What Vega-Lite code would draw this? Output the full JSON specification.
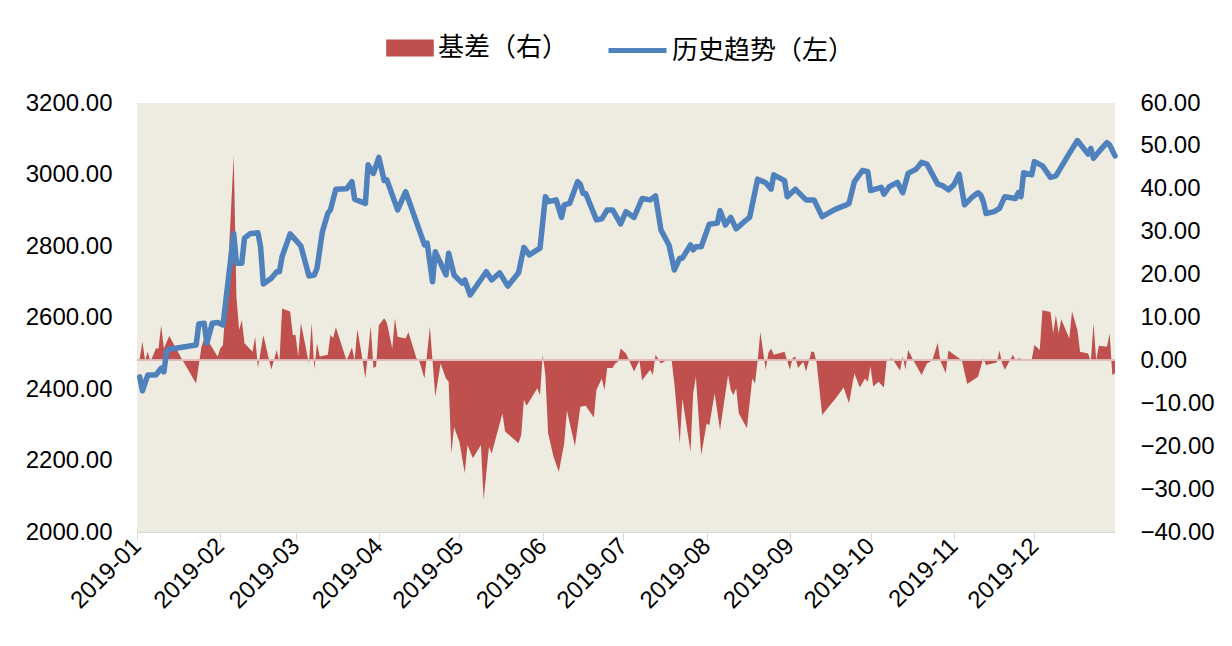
{
 "$schema": "https://vega.github.io/schema/vega-lite/v6.json",
 "width": 978,
 "height": 429,
 "autosize": {"type": "none"},
 "padding": {"left": 137, "top": 103, "right": 117, "bottom": 114},
 "background": "#ffffff",
 "config": {
  "view": {"fill": "#EEECE1", "stroke": null},
  "axis": {"labelFont": "Liberation Sans", "labelColor": "#000000", "labelFontSize": 24, "grid": false, "title": null},
  "legend": {"labelFont": "Noto Sans CJK SC", "labelFontSize": 26, "labelColor": "#000000", "padding": 0, "labelLimit": 500}
 },
 "datasets": {
  "basis": [
   {"date":"2019/01/02","basis":0.3},{"date":"2019/01/03","basis":4.4},{"date":"2019/01/04","basis":0},{"date":"2019/01/05","basis":2.0},{"date":"2019/01/06","basis":-0.3},{"date":"2019/01/08","basis":2.8},{"date":"2019/01/09","basis":2.8},{"date":"2019/01/10","basis":8.2},{"date":"2019/01/11","basis":2.8},{"date":"2019/01/13","basis":5.7},{"date":"2019/01/18","basis":0},{"date":"2019/01/23","basis":-5.4},{"date":"2019/01/25","basis":3.2},{"date":"2019/01/27","basis":7.1},{"date":"2019/01/28","basis":4.0},{"date":"2019/01/31","basis":0.9},
   {"date":"2019/02/01","basis":2.8},{"date":"2019/02/02","basis":3.6},{"date":"2019/02/04","basis":22.6},{"date":"2019/02/06","basis":47.9},{"date":"2019/02/07","basis":14.9},{"date":"2019/02/08","basis":7.1},{"date":"2019/02/09","basis":9.4},{"date":"2019/02/10","basis":4.0},{"date":"2019/02/13","basis":2.0},{"date":"2019/02/14","basis":5.5},{"date":"2019/02/15","basis":-1.8},{"date":"2019/02/17","basis":5.9},{"date":"2019/02/20","basis":-2.1},{"date":"2019/02/22","basis":2.4},{"date":"2019/02/23","basis":-0.3},{"date":"2019/02/24","basis":12.1},{"date":"2019/02/27","basis":11.4},{"date":"2019/02/28","basis":5.9},
   {"date":"2019/03/01","basis":5.9},{"date":"2019/03/02","basis":0.9},{"date":"2019/03/03","basis":8.7},{"date":"2019/03/06","basis":-0.7},{"date":"2019/03/07","basis":8.8},{"date":"2019/03/08","basis":-2.2},{"date":"2019/03/09","basis":4.0},{"date":"2019/03/10","basis":0.9},{"date":"2019/03/13","basis":1.3},{"date":"2019/03/14","basis":5.9},{"date":"2019/03/15","basis":5.2},{"date":"2019/03/16","basis":7.7},{"date":"2019/03/20","basis":0},{"date":"2019/03/22","basis":3.0},{"date":"2019/03/23","basis":0},{"date":"2019/03/24","basis":7.3},{"date":"2019/03/26","basis":0},{"date":"2019/03/27","basis":-4.2},{"date":"2019/03/29","basis":8.0},{"date":"2019/03/30","basis":-1.8},{"date":"2019/03/31","basis":-1.4},
   {"date":"2019/04/01","basis":8.2},{"date":"2019/04/03","basis":9.8},{"date":"2019/04/04","basis":8.8},{"date":"2019/04/06","basis":2.8},{"date":"2019/04/07","basis":9.8},{"date":"2019/04/08","basis":5.5},{"date":"2019/04/11","basis":5.1},{"date":"2019/04/12","basis":6.6},{"date":"2019/04/15","basis":0.5},{"date":"2019/04/16","basis":0},{"date":"2019/04/18","basis":-4.2},{"date":"2019/04/20","basis":7.8},{"date":"2019/04/21","basis":0},{"date":"2019/04/22","basis":-8.5},{"date":"2019/04/24","basis":-0.7},{"date":"2019/04/26","basis":-4.2},{"date":"2019/04/27","basis":-5.0},{"date":"2019/04/28","basis":-21.7},{"date":"2019/04/29","basis":-15.5},
   {"date":"2019/05/01","basis":-19.0},{"date":"2019/05/03","basis":-26.3},{"date":"2019/05/04","basis":-19.7},{"date":"2019/05/06","basis":-22.8},{"date":"2019/05/09","basis":-19.7},{"date":"2019/05/10","basis":-32.5},{"date":"2019/05/12","basis":-20.1},{"date":"2019/05/13","basis":-21.7},{"date":"2019/05/17","basis":-12.4},{"date":"2019/05/18","basis":-16.6},{"date":"2019/05/23","basis":-19.3},{"date":"2019/05/24","basis":-17.4},{"date":"2019/05/25","basis":-9.2},{"date":"2019/05/26","basis":-10.6},{"date":"2019/05/30","basis":-6.5},{"date":"2019/05/31","basis":-8.1},
   {"date":"2019/06/01","basis":1.3},{"date":"2019/06/02","basis":-3.4},{"date":"2019/06/03","basis":-16.9},{"date":"2019/06/05","basis":-22.4},{"date":"2019/06/07","basis":-26.0},{"date":"2019/06/09","basis":-19.3},{"date":"2019/06/10","basis":-11.7},{"date":"2019/06/13","basis":-20.0},{"date":"2019/06/15","basis":-10.8},{"date":"2019/06/17","basis":-10.6},{"date":"2019/06/20","basis":-13.3},{"date":"2019/06/21","basis":-6.9},{"date":"2019/06/23","basis":-4.2},{"date":"2019/06/24","basis":-6.9},{"date":"2019/06/25","basis":-1.8},{"date":"2019/06/27","basis":-1.8},{"date":"2019/06/28","basis":-0.7},{"date":"2019/06/29","basis":-0.3},{"date":"2019/06/30","basis":2.8},
   {"date":"2019/07/02","basis":1.6},{"date":"2019/07/05","basis":-2.6},{"date":"2019/07/07","basis":0},{"date":"2019/07/08","basis":-4.6},{"date":"2019/07/11","basis":-2.2},{"date":"2019/07/12","basis":-3.4},{"date":"2019/07/13","basis":1.3},{"date":"2019/07/15","basis":-0.7},{"date":"2019/07/17","basis":0},{"date":"2019/07/19","basis":0},{"date":"2019/07/20","basis":-5.4},{"date":"2019/07/22","basis":-19.3},{"date":"2019/07/23","basis":-8.9},{"date":"2019/07/26","basis":-21.3},{"date":"2019/07/27","basis":-7.7},{"date":"2019/07/28","basis":-3.8},{"date":"2019/07/30","basis":-22.1},
   {"date":"2019/08/01","basis":-14.7},{"date":"2019/08/02","basis":-15.1},{"date":"2019/08/04","basis":-7.7},{"date":"2019/08/06","basis":-16.2},{"date":"2019/08/09","basis":-3.4},{"date":"2019/08/10","basis":-6.9},{"date":"2019/08/11","basis":-8.1},{"date":"2019/08/12","basis":-6.5},{"date":"2019/08/13","basis":-12.4},{"date":"2019/08/16","basis":-15.8},{"date":"2019/08/18","basis":-4.2},{"date":"2019/08/19","basis":-5.4},{"date":"2019/08/20","basis":0},{"date":"2019/08/21","basis":6.6},{"date":"2019/08/23","basis":-2.2},{"date":"2019/08/24","basis":1.8},{"date":"2019/08/25","basis":2.8},{"date":"2019/08/26","basis":1.3},{"date":"2019/08/30","basis":2.0},
   {"date":"2019/09/01","basis":-2.2},{"date":"2019/09/02","basis":0.5},{"date":"2019/09/03","basis":0.9},{"date":"2019/09/04","basis":-1.8},{"date":"2019/09/06","basis":-0.3},{"date":"2019/09/07","basis":-2.6},{"date":"2019/09/09","basis":2.0},{"date":"2019/09/10","basis":2.0},{"date":"2019/09/11","basis":-0.7},{"date":"2019/09/13","basis":-12.7},{"date":"2019/09/18","basis":-8.9},{"date":"2019/09/21","basis":-6.3},{"date":"2019/09/23","basis":-10.0},{"date":"2019/09/25","basis":-3.0},{"date":"2019/09/27","basis":-6.3},{"date":"2019/09/29","basis":-4.2},{"date":"2019/09/30","basis":-5.0},
   {"date":"2019/10/01","basis":-1.4},{"date":"2019/10/02","basis":-6.1},{"date":"2019/10/04","basis":-5.0},{"date":"2019/10/06","basis":-6.3},{"date":"2019/10/07","basis":0},{"date":"2019/10/09","basis":0.5},{"date":"2019/10/12","basis":-2.4},{"date":"2019/10/13","basis":0.9},{"date":"2019/10/14","basis":-2.1},{"date":"2019/10/15","basis":2.4},{"date":"2019/10/17","basis":0},{"date":"2019/10/20","basis":-3.4},{"date":"2019/10/22","basis":-0.7},{"date":"2019/10/24","basis":0},{"date":"2019/10/26","basis":4.1},{"date":"2019/10/27","basis":0},{"date":"2019/10/29","basis":-3.0},{"date":"2019/10/30","basis":2.3},
   {"date":"2019/11/03","basis":0.5},{"date":"2019/11/04","basis":0},{"date":"2019/11/06","basis":-5.5},{"date":"2019/11/10","basis":-3.8},{"date":"2019/11/12","basis":0.5},{"date":"2019/11/13","basis":-1.1},{"date":"2019/11/17","basis":-0.5},{"date":"2019/11/18","basis":2.3},{"date":"2019/11/19","basis":-0.7},{"date":"2019/11/20","basis":-2.2},{"date":"2019/11/23","basis":1.3},{"date":"2019/11/24","basis":0},{"date":"2019/11/25","basis":0.5},{"date":"2019/11/26","basis":0.4},{"date":"2019/11/27","basis":0},{"date":"2019/11/30","basis":0.2},
   {"date":"2019/12/01","basis":3.6},{"date":"2019/12/03","basis":2.4},{"date":"2019/12/04","basis":11.7},{"date":"2019/12/07","basis":11.3},{"date":"2019/12/08","basis":6.3},{"date":"2019/12/09","basis":10.6},{"date":"2019/12/10","basis":6.3},{"date":"2019/12/11","basis":9.6},{"date":"2019/12/14","basis":5.1},{"date":"2019/12/15","basis":11.4},{"date":"2019/12/17","basis":7.1},{"date":"2019/12/18","basis":2.0},{"date":"2019/12/21","basis":1.6},{"date":"2019/12/22","basis":-0.3},{"date":"2019/12/23","basis":8.7},{"date":"2019/12/24","basis":0},{"date":"2019/12/25","basis":3.4},{"date":"2019/12/28","basis":3.2},{"date":"2019/12/29","basis":6.3},{"date":"2019/12/30","basis":-3.4},{"date":"2019/12/31","basis":-3.0}
  ],
  "trend": [
   {"date":"2019/01/02","price":2434},{"date":"2019/01/03","price":2395},{"date":"2019/01/05","price":2439},{"date":"2019/01/08","price":2439},{"date":"2019/01/10","price":2458},{"date":"2019/01/11","price":2448},{"date":"2019/01/12","price":2504},{"date":"2019/01/13","price":2511},{"date":"2019/01/23","price":2523},{"date":"2019/01/24","price":2582},{"date":"2019/01/26","price":2584},{"date":"2019/01/27","price":2528},{"date":"2019/01/29","price":2584},{"date":"2019/01/31","price":2586},
   {"date":"2019/02/02","price":2579},{"date":"2019/02/06","price":2835},{"date":"2019/02/07","price":2752},{"date":"2019/02/09","price":2752},{"date":"2019/02/10","price":2822},{"date":"2019/02/12","price":2834},{"date":"2019/02/15","price":2837},{"date":"2019/02/16","price":2798},{"date":"2019/02/17","price":2694},{"date":"2019/02/20","price":2710},{"date":"2019/02/22","price":2728},{"date":"2019/02/23","price":2728},{"date":"2019/02/24","price":2770},{"date":"2019/02/27","price":2834},
   {"date":"2019/03/01","price":2817},{"date":"2019/03/03","price":2800},{"date":"2019/03/06","price":2716},{"date":"2019/03/08","price":2719},{"date":"2019/03/09","price":2738},{"date":"2019/03/11","price":2840},{"date":"2019/03/13","price":2891},{"date":"2019/03/14","price":2901},{"date":"2019/03/16","price":2959},{"date":"2019/03/20","price":2960},{"date":"2019/03/22","price":2980},{"date":"2019/03/23","price":2931},{"date":"2019/03/27","price":2919},{"date":"2019/03/28","price":3027},{"date":"2019/03/30","price":3003},
   {"date":"2019/04/01","price":3048},{"date":"2019/04/03","price":2983},{"date":"2019/04/04","price":2985},{"date":"2019/04/08","price":2901},{"date":"2019/04/11","price":2952},{"date":"2019/04/18","price":2803},{"date":"2019/04/19","price":2808},{"date":"2019/04/21","price":2700},{"date":"2019/04/22","price":2784},{"date":"2019/04/26","price":2719},{"date":"2019/04/27","price":2780},{"date":"2019/04/29","price":2719},
   {"date":"2019/05/02","price":2696},{"date":"2019/05/03","price":2705},{"date":"2019/05/05","price":2663},{"date":"2019/05/11","price":2728},{"date":"2019/05/13","price":2705},{"date":"2019/05/16","price":2725},{"date":"2019/05/19","price":2688},{"date":"2019/05/23","price":2725},{"date":"2019/05/25","price":2796},{"date":"2019/05/27","price":2775},{"date":"2019/05/31","price":2794},
   {"date":"2019/06/02","price":2938},{"date":"2019/06/03","price":2924},{"date":"2019/06/06","price":2929},{"date":"2019/06/08","price":2880},{"date":"2019/06/09","price":2915},{"date":"2019/06/11","price":2919},{"date":"2019/06/14","price":2980},{"date":"2019/06/15","price":2973},{"date":"2019/06/16","price":2947},{"date":"2019/06/17","price":2947},{"date":"2019/06/21","price":2873},{"date":"2019/06/23","price":2876},{"date":"2019/06/25","price":2901},{"date":"2019/06/27","price":2901},{"date":"2019/06/30","price":2862},
   {"date":"2019/07/02","price":2896},{"date":"2019/07/05","price":2880},{"date":"2019/07/08","price":2933},{"date":"2019/07/11","price":2929},{"date":"2019/07/13","price":2940},{"date":"2019/07/15","price":2845},{"date":"2019/07/18","price":2803},{"date":"2019/07/20","price":2733},{"date":"2019/07/22","price":2766},{"date":"2019/07/23","price":2766},{"date":"2019/07/26","price":2803},{"date":"2019/07/27","price":2789},{"date":"2019/07/28","price":2798},{"date":"2019/07/30","price":2798},
   {"date":"2019/08/02","price":2861},{"date":"2019/08/05","price":2864},{"date":"2019/08/06","price":2899},{"date":"2019/08/08","price":2859},{"date":"2019/08/10","price":2880},{"date":"2019/08/12","price":2848},{"date":"2019/08/15","price":2868},{"date":"2019/08/17","price":2880},{"date":"2019/08/20","price":2987},{"date":"2019/08/23","price":2977},{"date":"2019/08/25","price":2959},{"date":"2019/08/26","price":2999},{"date":"2019/08/30","price":2983},{"date":"2019/08/31","price":2938},
   {"date":"2019/09/03","price":2959},{"date":"2019/09/07","price":2929},{"date":"2019/09/10","price":2929},{"date":"2019/09/13","price":2882},{"date":"2019/09/18","price":2903},{"date":"2019/09/22","price":2915},{"date":"2019/09/23","price":2919},{"date":"2019/09/25","price":2980},{"date":"2019/09/28","price":3011},{"date":"2019/09/30","price":3008},
   {"date":"2019/10/01","price":2955},{"date":"2019/10/05","price":2964},{"date":"2019/10/06","price":2945},{"date":"2019/10/08","price":2966},{"date":"2019/10/11","price":2978},{"date":"2019/10/13","price":2949},{"date":"2019/10/15","price":3003},{"date":"2019/10/18","price":3015},{"date":"2019/10/20","price":3034},{"date":"2019/10/22","price":3029},{"date":"2019/10/26","price":2973},{"date":"2019/10/28","price":2968},{"date":"2019/10/30","price":2957},
   {"date":"2019/11/01","price":2971},{"date":"2019/11/03","price":3001},{"date":"2019/11/05","price":2915},{"date":"2019/11/08","price":2938},{"date":"2019/11/10","price":2949},{"date":"2019/11/11","price":2943},{"date":"2019/11/12","price":2924},{"date":"2019/11/13","price":2891},{"date":"2019/11/16","price":2896},{"date":"2019/11/18","price":2905},{"date":"2019/11/20","price":2938},{"date":"2019/11/24","price":2933},{"date":"2019/11/25","price":2949},{"date":"2019/11/26","price":2938},{"date":"2019/11/27","price":3005},{"date":"2019/11/30","price":2999},
   {"date":"2019/12/01","price":3036},{"date":"2019/12/04","price":3024},{"date":"2019/12/07","price":2992},{"date":"2019/12/09","price":2996},{"date":"2019/12/14","price":3059},{"date":"2019/12/17","price":3095},{"date":"2019/12/21","price":3057},{"date":"2019/12/22","price":3073},{"date":"2019/12/23","price":3045},{"date":"2019/12/25","price":3064},{"date":"2019/12/28","price":3089},{"date":"2019/12/29","price":3083},{"date":"2019/12/31","price":3052}
  ]
 },
 "layer": [
  {
   "data": {"name": "basis"},
   "layer": [
    {
     "mark": {"type": "area", "interpolate": "linear"},
     "encoding": {
      "x": {
       "field": "date", "type": "temporal",
       "scale": {"domain": [{"year": 2019, "month": 1, "date": 1}, {"year": 2019, "month": 12, "date": 31}]},
       "axis": {"format": "%Y-%m", "tickCount": {"interval": "month", "step": 1}, "labelAngle": -45, "labelAlign": "right", "labelBaseline": "middle", "labelPadding": 2, "tickSize": 8, "tickColor": "#D9D9D9", "domainColor": "#D9D9D9", "labelOverlap": false, "labelFlush": false, "labelBound": false}
      },
      "y": {
       "field": "basis", "type": "quantitative",
       "scale": {"domain": [-40, 60], "nice": false, "zero": false},
       "axis": {"orient": "right", "values": [-40, -30, -20, -10, 0, 10, 20, 30, 40, 50, 60], "format": ".2f", "ticks": false, "tickSize": 0, "domain": false, "labelPadding": 25}
      },
      "y2": {"datum": 0},
      "fill": {
       "datum": "基差（右）", "type": "nominal",
       "scale": {"range": ["#C0504D"]},
       "legend": {"title": null, "orient": "none", "legendX": 256, "legendY": -72, "symbolType": "M-1.4,-0.5H1.4V0.5H-1.4Z", "symbolSize": 1156, "symbolStrokeWidth": 0, "labelOffset": 11}
      }
     }
    },
    {
     "mark": {"type": "rule", "color": "#E0BDBA", "strokeWidth": 1},
     "encoding": {"y": {"datum": 0, "type": "quantitative"}}
    }
   ]
  },
  {
   "data": {"name": "trend"},
   "mark": {"type": "line", "strokeWidth": 5.5, "strokeJoin": "round", "strokeCap": "round"},
   "encoding": {
    "x": {"field": "date", "type": "temporal"},
    "y": {
     "field": "price", "type": "quantitative",
     "scale": {"domain": [2000, 3200], "nice": false, "zero": false},
     "axis": {"orient": "left", "values": [2000, 2200, 2400, 2600, 2800, 3000, 3200], "format": ".2f", "ticks": false, "tickSize": 0, "domain": false, "labelPadding": 25}
    },
    "stroke": {
     "datum": "历史趋势（左）", "type": "nominal",
     "scale": {"range": ["#4F81BD"]},
     "legend": {"title": null, "orient": "none", "legendX": 469, "legendY": -84, "symbolType": "stroke", "symbolSize": 3364, "symbolStrokeWidth": 5, "labelOffset": 3}
    }
   }
  }
 ],
 "resolve": {"scale": {"y": "independent"}}
}
